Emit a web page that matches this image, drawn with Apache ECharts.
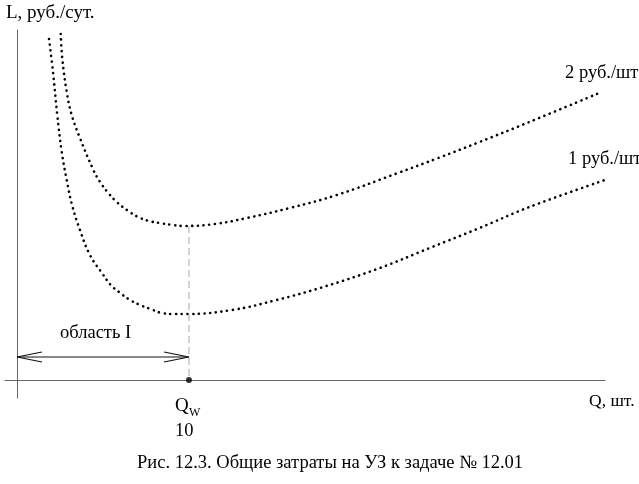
<!DOCTYPE html>
<html>
<head>
<meta charset="utf-8">
<script src="https://cdn.jsdelivr.net/npm/echarts@6/dist/echarts.min.js"></script>
<style>
html,body{margin:0;padding:0;background:#fff;}
#c{width:639px;height:484px;}
</style>
</head>
<body>
<div id="c"></div>
<script>
// Upper curve: 2 руб./шт
const q2 = [2.54, 2.63, 2.89, 3.18, 3.66, 4.44, 4.83, 5.31, 5.80, 6.47, 7.05, 7.67, 8.31, 9.05, 9.77, 11.5, 13.37, 15.87, 18.6, 22.15, 24.5, 26.9, 29.8, 34.0];
const cost2 = [34.6, 32.2, 28.8, 26.5, 24.2, 21.0, 19.8, 18.7, 17.8, 16.9, 16.3, 15.9, 15.7, 15.5, 15.4, 15.6, 16.2, 17.2, 18.5, 20.7, 22.2, 23.8, 25.8, 28.8];
// Lower curve: 1 руб./шт
const q1 = [1.86, 2.11, 2.34, 2.60, 2.89, 3.20, 3.66, 4.24, 4.94, 5.45, 5.93, 6.57, 7.15, 7.77, 8.41, 9.19, 9.87, 12.5, 15.1, 18.0, 21.1, 24.0, 26.9, 29.8, 34.2];
const cost1 = [34.1, 30.5, 26.5, 22.8, 20.0, 17.5, 15.0, 12.5, 10.7, 9.5, 8.8, 8.0, 7.5, 7.1, 6.7, 6.6, 6.6, 7.0, 8.0, 9.4, 11.2, 13.2, 15.2, 17.3, 20.0];
// Optimal quantity Q_w and region I
const qW = 10;
const qWCost = 15.4;
const arrowLevel = 2.3;

const serif = '"Liberation Serif", "DejaVu Serif", serif';
const zip = (a, b) => a.map((v, i) => [v, b[i]]);

const dotted = { color: '#000', width: 2.6, type: [0.1, 5.6], cap: 'round' };

const chart = echarts.init(document.getElementById('c'), null, { renderer: 'canvas' });
chart.setOption({
  animation: false,
  backgroundColor: '#fff',
  grid: { left: 5, right: 34, top: 30, bottom: 86 },
  xAxis: {
    type: 'value', min: -0.7, max: 34.2,
    axisLine: { onZero: true, lineStyle: { color: '#666', width: 1 } },
    axisTick: { show: false }, axisLabel: { show: false }, splitLine: { show: false }
  },
  yAxis: {
    type: 'value', min: -1.8, max: 35,
    axisLine: { show: true, onZero: true, lineStyle: { color: '#666', width: 1 } },
    axisTick: { show: false }, axisLabel: { show: false }, splitLine: { show: false }
  },
  series: [
    { type: 'line', data: zip(q2, cost2), smooth: 0.4, showSymbol: false, lineStyle: dotted },
    { type: 'line', data: zip(q1, cost1), smooth: 0.4, showSymbol: false, lineStyle: dotted },
    { type: 'line', data: [[qW, qWCost], [qW, 0]], showSymbol: false,
      lineStyle: { color: '#aaa', width: 1, type: [7, 4] } },
    { type: 'line', data: [[0, arrowLevel], [qW, arrowLevel]], showSymbol: false,
      lineStyle: { color: '#111', width: 1.2 } },
    { type: 'line', data: [[1.45, arrowLevel + 0.5], [0, arrowLevel], [1.45, arrowLevel - 0.5]], showSymbol: false,
      lineStyle: { color: '#111', width: 1.2 } },
    { type: 'line', data: [[qW - 1.45, arrowLevel + 0.5], [qW, arrowLevel], [qW - 1.45, arrowLevel - 0.5]], showSymbol: false,
      lineStyle: { color: '#111', width: 1.2 } },
    { type: 'scatter', data: [[qW, 0]], symbolSize: 6, itemStyle: { color: '#000' } }
  ],
  graphic: [
    { type: 'text', left: 6, top: 4, style: { text: 'L, руб./сут.', font: '19px ' + serif, fill: '#000' } },
    { type: 'text', left: 565, top: 64, style: { text: '2 руб./шт', font: '18.5px ' + serif, fill: '#000' } },
    { type: 'text', left: 568, top: 150, style: { text: '1 руб./шт', font: '18.5px ' + serif, fill: '#000' } },
    { type: 'text', left: 589, top: 392, style: { text: 'Q, шт.', font: '17.5px ' + serif, fill: '#000' } },
    { type: 'text', left: 60, top: 324, style: { text: 'область I', font: '18.5px ' + serif, fill: '#000' } },
    { type: 'text', left: 175, top: 397, style: { text: 'Q', font: '19px ' + serif, fill: '#000' } },
    { type: 'text', left: 189, top: 407, style: { text: 'W', font: '12px ' + serif, fill: '#000' } },
    { type: 'text', left: 175, top: 422, style: { text: '10', font: '18.5px ' + serif, fill: '#000' } },
    { type: 'text', left: 137, top: 454, style: { text: 'Рис. 12.3. Общие затраты на УЗ к задаче № 12.01', font: '18.5px ' + serif, fill: '#000' } }
  ]
});
</script>
</body>
</html>
